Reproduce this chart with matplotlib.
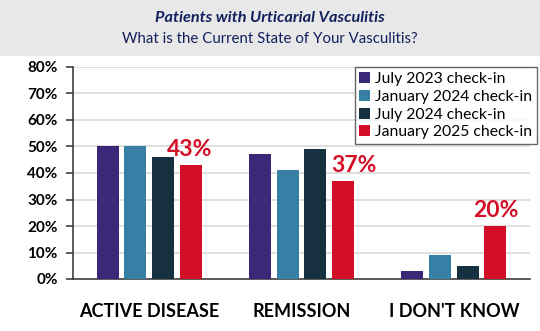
import matplotlib.pyplot as plt
import numpy as np
from matplotlib.patches import Rectangle

categories = ['ACTIVE DISEASE', 'REMISSION', "I DON'T KNOW"]
series = ['July 2023 check-in', 'January 2024 check-in', 'July 2024 check-in', 'January 2025 check-in']
jul_2023 = [50, 47, 3]
jan_2024 = [50, 41, 9]
jul_2024 = [46, 49, 5]
jan_2025 = [43, 37, 20]
colors = ['#3B2878', '#3680A6', '#17303F', '#D30E26']
yticks = [0, 10, 20, 30, 40, 50, 60, 70, 80]

plt.rcParams['font.family'] = ['Lato', 'DejaVu Sans']

fig = plt.figure(figsize=(5.4, 3.31), dpi=100)
fig.patches.append(Rectangle((0, 1 - 55 / 331), 1, 55 / 331, transform=fig.transFigure,
                             color='#E8E8E8', zorder=0))
fig.text(0.5, 1 - 18 / 331, 'Patients with Urticarial Vasculitis', ha='center', va='center',
         fontsize=11.7, fontweight='bold', style='italic', color='#13205E')
fig.text(0.5, 1 - 39 / 331, 'What is the Current State of Your Vasculitis?', ha='center', va='center',
         fontsize=10.8, color='#13205E')

ax = fig.add_axes([73 / 540, 1 - 279 / 331, 457 / 540, 212 / 331])
x = np.arange(len(categories))
width = 0.145
step = 0.182
data = [jul_2023, jan_2024, jul_2024, jan_2025]
for i, (vals, name, c) in enumerate(zip(data, series, colors)):
    ax.bar(x + (i - 1.5) * step, vals, width, color=c, label=name, zorder=3)

# labels were nudged by hand in the original
label_dx = [-0.01, 0.07, 0.0]
for xi, v, dx in zip(x, jan_2025, label_dx):
    ax.text(xi + 1.5 * step + dx, v + 2.0, f'{v}%', ha='center', va='bottom',
            fontsize=16.5, fontweight='bold', color=colors[3])

ax.set_xlim(-0.5, 2.5)
ax.set_ylim(0, 80)
ax.set_yticks(yticks)
ax.set_yticklabels([f'{t}%' for t in yticks], fontsize=11, fontweight='bold')
ax.set_xticks(x)
ax.set_xticklabels(categories, fontsize=13, fontweight='bold')
ax.tick_params(axis='x', length=0, pad=17)
ax.tick_params(axis='y', length=5, width=1.2, color='#404040', direction='out', pad=6)
ax.yaxis.grid(True, color='#D9D9D9', linewidth=1.2, zorder=0)
for s in ['top', 'right']:
    ax.spines[s].set_visible(False)
ax.spines['left'].set_color('#404040')
ax.spines['left'].set_linewidth(1.2)
ax.spines['bottom'].set_color('#404040')
ax.spines['bottom'].set_linewidth(1.2)

leg = ax.legend(loc='upper right', bbox_to_anchor=(1.015, 1.0), borderaxespad=0, fontsize=11.3,
                frameon=True, fancybox=False, handlelength=0.7, handleheight=0.7, handletextpad=0.3,
                labelspacing=0.25, borderpad=0.3)
leg.get_frame().set_edgecolor('#404040')
leg.get_frame().set_linewidth(1.0)

plt.savefig('out.png', dpi=100)
